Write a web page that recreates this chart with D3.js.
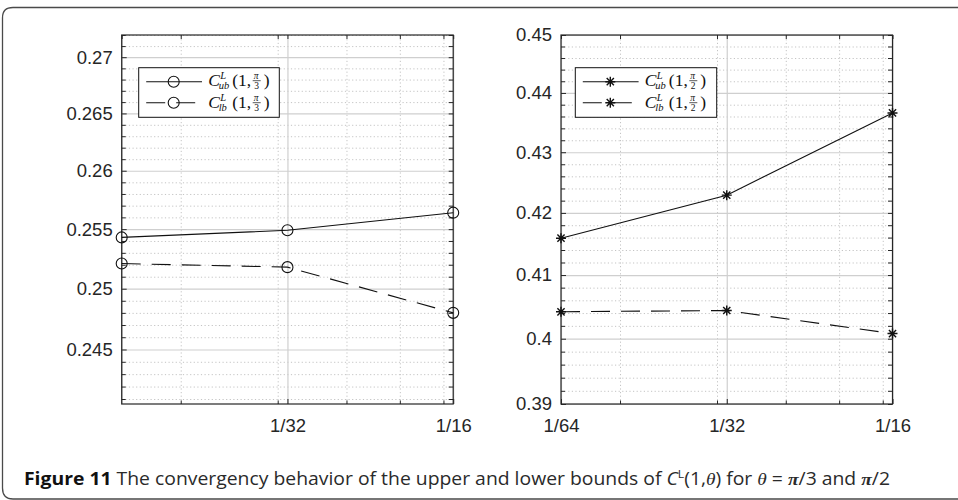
<!DOCTYPE html>
<html>
<head>
<meta charset="utf-8">
<script src="https://cdn.jsdelivr.net/npm/d3@7"></script>
<style>
body { margin: 0; background: #fff; }
svg { display: block; }
.tick text { font-family: "Liberation Sans", Arial, sans-serif; font-size: 18.5px; fill: #262626; }
</style>
</head>
<body>
<script>

// step sizes h (log-scaled x axis)
var hValues = [1/64, 1/32, 1/16];
var xTickValues = [1/64, 1/32, 1/16];
var xTickLabels = ["1/64", "1/32", "1/16"];
var xMinorValues = [0.02, 0.03, 0.04, 0.05, 0.06];

// theta = pi/3 panel
var ubPi3 = [0.2543, 0.2549, 0.2564];
var lbPi3 = [0.2521, 0.2518, 0.2480];
var yTicksPi3 = [0.245, 0.25, 0.255, 0.26, 0.265, 0.27];
var yTickLabelsPi3 = ["0.245", "0.25", "0.255", "0.26", "0.265", "0.27"];
var yDomainPi3 = [0.2406, 0.2720];

// theta = pi/2 panel
var ubPi2 = [0.4159, 0.4229, 0.4366];
var lbPi2 = [0.4042, 0.4044, 0.4008];
var yTicksPi2 = [0.39, 0.40, 0.41, 0.42, 0.43, 0.44, 0.45];
var yTickLabelsPi2 = ["0.39", "0.4", "0.41", "0.42", "0.43", "0.44", "0.45"];
var yDomainPi2 = [0.39, 0.45];

var W = 958, H = 500;
var svg = d3.select("body").append("svg").attr("width", W).attr("height", H)

// figure frame (open to the right)
svg.append("path")
  .attr("d", "M962,7.5 H13 Q2.5,7.5 2.5,18 V488 Q2.5,499 13,499 H962")
  .attr("fill", "none").attr("stroke", "#4a4a4a").attr("stroke-width", 1.3)

var pw = 331.5, ph = 369

function range(a, b, step) {
  var out = []
  for (var v = a; v <= b + 1e-9; v += step) out.push(+v.toFixed(4))
  return out
}

function panel(opt) {
  var g = svg.append("g").attr("transform", "translate(" + opt.left + "," + opt.top + ")")

  var x = d3.scaleLog().domain([1/64, 1/16]).range([0, pw])
  var y = d3.scaleLog().domain(opt.yDomain).range([ph, 0])

  var yMinor = opt.yMinor.filter(function(v) {
    return opt.yTicks.every(function(t) { return Math.abs(t - v) > 1e-6 })
  })

  // minor grid
  g.append("g").call(d3.axisBottom(x).tickValues(xMinorValues).tickSize(-ph).tickFormat(""))
    .attr("transform", "translate(0," + ph + ")")
    .call(function(s) { s.select(".domain").remove() })
    .selectAll("line").attr("stroke", "#c4c4c4").attr("stroke-dasharray", "1.2,2.4")
  g.append("g").call(d3.axisLeft(y).tickValues(yMinor).tickSize(-pw).tickFormat(""))
    .call(function(s) { s.select(".domain").remove() })
    .selectAll("line").attr("stroke", "#c4c4c4").attr("stroke-dasharray", "1.2,2.4")

  // major grid
  g.append("g").call(d3.axisBottom(x).tickValues(xTickValues).tickSize(-ph).tickFormat(""))
    .attr("transform", "translate(0," + ph + ")")
    .call(function(s) { s.select(".domain").remove() })
    .selectAll("line").attr("stroke", "#cfcfcf").attr("stroke-width", 1.2)
  g.append("g").call(d3.axisLeft(y).tickValues(opt.yTicks).tickSize(-pw).tickFormat(""))
    .call(function(s) { s.select(".domain").remove() })
    .selectAll("line").attr("stroke", "#cfcfcf").attr("stroke-width", 1.2)

  // ticks on all four sides, pointing inward
  var axisColor = "#262626"
  function styleAxis(s) {
    s.select(".domain").remove()
    s.selectAll("line").attr("stroke", axisColor)
  }
  var xLabelMap = {}
  xTickValues.forEach(function(v, i) { xLabelMap[v] = xTickLabels[i] })
  var yLabelMap = {}
  opt.yTicks.forEach(function(v, i) { yLabelMap[v] = opt.yTickLabels[i] })

  g.append("g").attr("transform", "translate(0," + ph + ")")
    .call(d3.axisBottom(x).tickValues(opt.xLabeled).tickSizeInner(-5).tickSizeOuter(0).tickPadding(15)
      .tickFormat(function(d) { return xLabelMap[d] }))
    .call(styleAxis)
  g.append("g").attr("transform", "translate(0," + ph + ")")
    .call(d3.axisBottom(x).tickValues(xMinorValues).tickSizeInner(-3.5).tickSizeOuter(0).tickFormat(""))
    .call(styleAxis)
  g.append("g")
    .call(d3.axisTop(x).tickValues(xTickValues.concat(xMinorValues)).tickSizeInner(-4).tickSizeOuter(0).tickFormat(""))
    .call(styleAxis)

  g.append("g")
    .call(d3.axisLeft(y).tickValues(opt.yTicks).tickSizeInner(-5).tickSizeOuter(0).tickPadding(9)
      .tickFormat(function(d) { return yLabelMap[d] }))
    .call(styleAxis)
  g.append("g")
    .call(d3.axisLeft(y).tickValues(yMinor).tickSizeInner(-4).tickSizeOuter(0).tickFormat(""))
    .call(styleAxis)
  g.append("g").attr("transform", "translate(" + pw + ",0)")
    .call(d3.axisRight(y).tickValues(opt.yTicks.concat(yMinor)).tickSizeInner(-4.5).tickSizeOuter(0).tickFormat(""))
    .call(styleAxis)

  g.selectAll(".tick text").attr("fill", axisColor)

  // box
  g.append("rect").attr("width", pw).attr("height", ph)
    .attr("fill", "none").attr("stroke", axisColor).attr("stroke-width", 1.2)

  // series
  var line = d3.line().x(function(d) { return x(d[0]) }).y(function(d) { return y(d[1]) })
  var series = [
    {vals: opt.ub, dash: null},
    {vals: opt.lb, dash: "19,11"}
  ]
  series.forEach(function(s) {
    var pts = hValues.map(function(h, i) { return [h, s.vals[i]] })
    g.append("path").datum(pts).attr("d", line)
      .attr("fill", "none").attr("stroke", "#111").attr("stroke-width", 1.1)
      .attr("stroke-dasharray", s.dash)
    g.selectAll(null).data(pts).enter().append("path")
      .attr("transform", function(d) { return "translate(" + x(d[0]) + "," + y(d[1]) + ")" })
      .attr("d", opt.marker)
      .attr("fill", "none").attr("stroke", "#111").attr("stroke-width", opt.markerWidth)
  })

  // legend
  var lg = g.append("g").attr("transform", "translate(" + opt.legendX + ",32.7)")
  lg.append("rect").attr("width", opt.legendW).attr("height", 49.6)
    .attr("fill", "#fff").attr("stroke", "#111").attr("stroke-width", 1)
  var labels = [["ub", null], ["lb", "19,11"]]
  labels.forEach(function(l, i) {
    var cy = 14 + i * 21
    lg.append("line").attr("x1", 7.5).attr("x2", 63.3).attr("y1", cy).attr("y2", cy)
      .attr("stroke", "#111").attr("stroke-width", 1.1).attr("stroke-dasharray", l[1])
    lg.append("path").attr("transform", "translate(35," + cy + ")").attr("d", opt.marker)
      .attr("fill", "none").attr("stroke", "#111").attr("stroke-width", opt.markerWidth)
    mathLabel(lg, 69.5, cy + 4 + i, l[0], opt.denom)
  })
}

// C^L_sub(1, pi/denom) typeset as one text element
function mathLabel(g, x0, yb, sub, denom) {
  var t = g.append("text").attr("x", x0).attr("y", yb)
    .attr("font-family", "'Liberation Serif', 'DejaVu Serif', serif").attr("font-size", 17.5).attr("fill", "#111")
  t.append("tspan").attr("font-style", "italic").text("C")
  t.append("tspan").attr("font-size", 10.5).attr("font-style", "italic").attr("x", x0 + 12).attr("dy", -7).text("L")
  t.append("tspan").attr("font-size", 10.5).attr("font-style", "italic").attr("x", x0 + 10.5).attr("dy", 10.2).text(sub)
  t.append("tspan").attr("x", x0 + 24).attr("dy", -3.2).text("(1,")
  t.append("tspan").attr("font-size", 9.5).attr("font-style", "italic").attr("x", x0 + 45.5).attr("dy", -7).text("\u03c0")
  t.append("tspan").attr("font-size", 9.5).attr("x", x0 + 46).attr("dy", 10).text(denom)
  t.append("tspan").attr("x", x0 + 55.5).attr("dy", -3).text(")")
  g.append("line").attr("x1", x0 + 44.5).attr("x2", x0 + 52.5).attr("y1", yb - 5).attr("y2", yb - 5)
    .attr("stroke", "#111").attr("stroke-width", 0.7)
}

var circleMarker = d3.symbol().type(d3.symbolCircle).size(Math.PI * 5.5 * 5.5)()
var starMarker = "M-5,0H5M0,-5V5M-3.6,-3.6L3.6,3.6M-3.6,3.6L3.6,-3.6"

panel({
  left: 121.7, top: 35, yDomain: yDomainPi3, yTicks: yTicksPi3, yTickLabels: yTickLabelsPi3,
  yMinor: range(0.241, 0.272, 0.001), xLabeled: [1/32, 1/16],
  ub: ubPi3, lb: lbPi3, marker: circleMarker, markerWidth: 1.1, denom: "3", legendX: 17, legendW: 140.6
})
panel({
  left: 561, top: 35, yDomain: yDomainPi2, yTicks: yTicksPi2, yTickLabels: yTickLabelsPi2,
  yMinor: range(0.39, 0.45, 0.002), xLabeled: xTickValues,
  ub: ubPi2, lb: lbPi2, marker: starMarker, markerWidth: 1.4, denom: "2", legendX: 14.3, legendW: 141.4
})

// caption
var cap = svg.append("text").attr("x", 24).attr("y", 485)
  .attr("font-family", "'Open Sans', 'Noto Sans', sans-serif").attr("font-size", 17.5).attr("fill", "#2a2a2a")
  .attr("textLength", 866).attr("lengthAdjust", "spacingAndGlyphs")
cap.append("tspan").attr("font-weight", "bold").attr("fill", "#111").text("Figure 11")
cap.append("tspan").text("  The convergency behavior of the upper and lower bounds of ")
cap.append("tspan").attr("font-style", "italic").text("C")
cap.append("tspan").attr("font-size", 11).attr("dy", -7).text("L")
cap.append("tspan").attr("dy", 7).text("(1,")
cap.append("tspan").attr("font-style", "italic").attr("font-family", "'Liberation Serif', serif").text("\u03b8")
cap.append("tspan").text(") for ")
cap.append("tspan").attr("font-style", "italic").attr("font-family", "'Liberation Serif', serif").text("\u03b8")
cap.append("tspan").text(" = ")
cap.append("tspan").attr("font-weight", "bold").attr("font-style", "italic").attr("font-family", "'Liberation Serif', serif").text("\u03c0")
cap.append("tspan").text("/3 and ")
cap.append("tspan").attr("font-weight", "bold").attr("font-style", "italic").attr("font-family", "'Liberation Serif', serif").text("\u03c0")
cap.append("tspan").text("/2")

</script>
</body>
</html>
